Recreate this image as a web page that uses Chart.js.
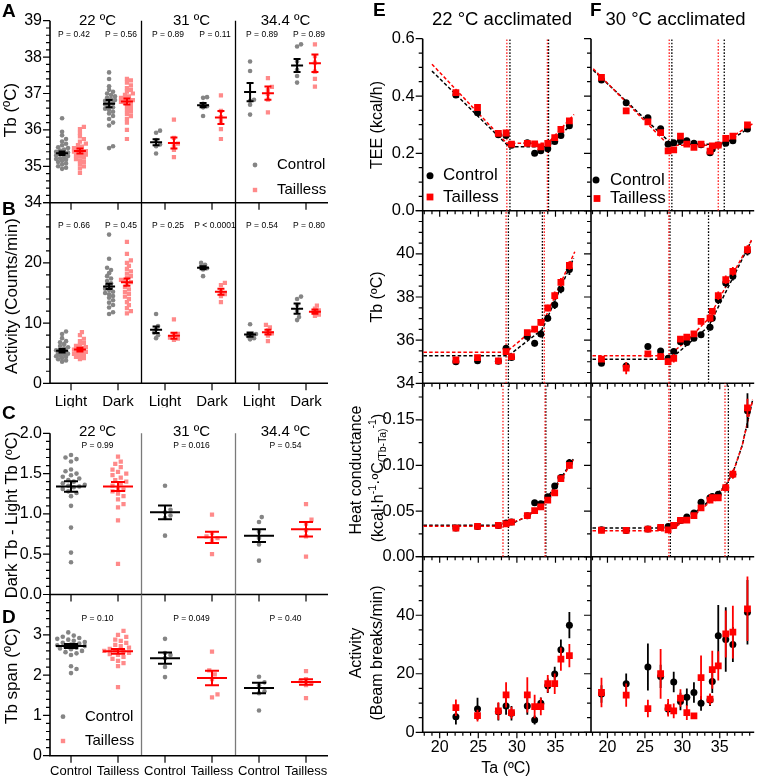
<!DOCTYPE html>
<html><head><meta charset="utf-8">
<script src="https://cdn.jsdelivr.net/npm/chart.js@4.4.0/dist/chart.umd.min.js"></script>
<style>
html,body{margin:0;padding:0;background:#fff;}
#wrap{position:relative;width:759px;height:781px;overflow:hidden;}
#wrap canvas{position:absolute;left:0;top:0;}
</style></head><body><div id="wrap"></div>
<script>
// ---------- data: left column (A-D) ----------
const groupTemps = ['22 ºC', '31 ºC', '34.4 ºC'];
const lightDark = ['Light', 'Dark', 'Light', 'Dark', 'Light', 'Dark'];
const genotypes = ['Control', 'Tailless', 'Control', 'Tailless', 'Control', 'Tailless'];

// A: Tb (ºC), one array per Light/Dark category
const tbControl = [
  [36.32, 35.95, 35.85, 35.75, 35.68, 35.62, 35.58, 35.52, 35.5, 35.46, 35.43, 35.4, 35.38, 35.35, 35.33, 35.3, 35.28, 35.25, 35.22, 35.2, 35.18, 35.15, 35.12, 35.08, 35.05, 35.0, 34.96, 34.93],
  [37.58, 37.4, 37.2, 37.1, 37.05, 37.0, 36.96, 36.92, 36.88, 36.85, 36.82, 36.8, 36.77, 36.74, 36.7, 36.66, 36.62, 36.58, 36.55, 36.5, 36.45, 36.38, 36.3, 36.2, 36.12, 35.55, 35.5],
  [35.98, 35.92, 35.72, 35.6, 35.55, 35.35],
  [36.9, 36.88, 36.72, 36.65, 36.62, 36.38],
  [37.88, 37.62, 36.83, 36.8, 36.69, 36.42],
  [38.35, 38.29, 37.88, 37.65, 37.48, 37.3]
];
const tbTailless = [
  [36.08, 36.02, 35.92, 35.82, 35.75, 35.68, 35.62, 35.58, 35.54, 35.5, 35.47, 35.44, 35.42, 35.4, 35.37, 35.34, 35.32, 35.3, 35.27, 35.24, 35.2, 35.16, 35.12, 35.06, 35.0, 34.94, 34.82],
  [37.4, 37.36, 37.3, 37.22, 37.15, 37.1, 37.05, 37.0, 36.96, 36.92, 36.88, 36.85, 36.82, 36.8, 36.77, 36.74, 36.7, 36.65, 36.6, 36.55, 36.5, 36.44, 36.38, 36.3, 36.2, 36.0, 35.75],
  [36.28, 35.78, 35.62, 35.55, 35.45, 35.25],
  [36.95, 36.52, 36.35, 36.25, 36.02, 35.75],
  [37.42, 37.18, 37.1, 36.98, 36.83, 36.48],
  [38.35, 38.03, 37.85, 37.6, 37.4, 37.19]
];
const tbControlMean = [35.36, 36.72, 35.66, 36.68, 37.04, 37.77];
const tbControlSem = [0.05, 0.1, 0.08, 0.06, 0.25, 0.18];
const tbTaillessMean = [35.42, 36.78, 35.64, 36.34, 37.01, 37.83];
const tbTaillessSem = [0.07, 0.08, 0.15, 0.18, 0.18, 0.24];
const tbP = ['P = 0.42', 'P = 0.56', 'P = 0.89', 'P = 0.11', 'P = 0.89', 'P = 0.89'];
const tbTicks = [34, 35, 36, 37, 38, 39];

// B: activity (counts/min)
const actControl = [
  [8.6, 8.2, 7.5, 7.0, 6.8, 6.5, 6.2, 6.0, 5.8, 5.6, 5.5, 5.3, 5.2, 5.0, 4.9, 4.8, 4.6, 4.5, 4.4, 4.2, 4.0, 3.8, 3.6],
  [24.7, 20.7, 19.2, 18.8, 18.3, 17.8, 17.4, 17.0, 16.6, 16.3, 16.0, 15.7, 15.5, 15.2, 15.0, 14.8, 14.5, 14.2, 13.8, 13.4, 13.0, 12.6, 11.8, 11.5],
  [11.5, 9.5, 9.0, 8.4, 8.0, 7.5],
  [20.0, 19.7, 19.4, 19.1, 18.9, 17.8],
  [9.8, 8.2, 8.0, 7.8, 7.5, 7.3],
  [14.4, 14.0, 13.0, 12.0, 11.0, 10.5]
];
const actTailless = [
  [8.5, 8.0, 7.4, 7.0, 6.7, 6.4, 6.2, 6.0, 5.9, 5.7, 5.6, 5.5, 5.4, 5.3, 5.2, 5.1, 5.0, 4.9, 4.8, 4.6, 4.4, 4.2, 4.0],
  [23.5, 21.5, 20.4, 20.0, 19.5, 19.0, 18.6, 18.2, 17.8, 17.5, 17.2, 17.0, 16.8, 16.5, 16.0, 15.6, 15.2, 14.8, 14.4, 14.0, 13.5, 13.0, 12.5, 12.0, 11.6],
  [10.6, 8.2, 8.0, 7.6, 7.4, 7.2],
  [16.7, 16.3, 15.2, 14.8, 14.5, 13.5],
  [9.7, 9.3, 8.8, 8.3, 7.9, 7.0],
  [12.9, 12.4, 12.1, 11.8, 11.4, 11.2]
];
const actControlMean = [5.4, 16.1, 8.9, 19.2, 8.1, 12.4];
const actControlSem = [0.3, 0.45, 0.55, 0.25, 0.35, 0.85];
const actTaillessMean = [5.6, 16.8, 7.9, 15.2, 8.5, 11.9];
const actTaillessSem = [0.3, 0.6, 0.5, 0.5, 0.4, 0.35];
const actP = ['P = 0.66', 'P = 0.45', 'P = 0.25', 'P < 0.0001', 'P = 0.54', 'P = 0.80'];
const actTicks = [0, 10, 20];

// C: dark Tb - light Tb, one array per temperature
const dtbControl = [
  [1.73, 1.70, 1.68, 1.65, 1.55, 1.53, 1.50, 1.48, 1.46, 1.44, 1.42, 1.40, 1.38, 1.36, 1.35, 1.34, 1.33, 1.31, 1.28, 1.26, 1.22, 1.10, 0.83, 0.52, 0.40],
  [1.35, 1.05, 1.02, 0.98, 0.95, 0.73],
  [0.96, 0.90, 0.78, 0.70, 0.62, 0.42]
];
const dtbTailless = [
  [1.71, 1.65, 1.62, 1.58, 1.55, 1.52, 1.50, 1.48, 1.45, 1.42, 1.40, 1.38, 1.35, 1.32, 1.30, 1.28, 1.25, 1.22, 1.18, 1.12, 1.08, 0.92, 0.38],
  [0.99, 0.76, 0.72, 0.70, 0.67, 0.50],
  [1.12, 0.93, 0.88, 0.80, 0.72, 0.47]
];
const dtbControlMean = [1.34, 1.02, 0.73];
const dtbControlSem = [0.065, 0.085, 0.08];
const dtbTaillessMean = [1.34, 0.71, 0.81];
const dtbTaillessSem = [0.055, 0.07, 0.09];
const dtbP = ['P = 0.99', 'P = 0.016', 'P = 0.54'];
const dtbTicks = [0, 0.5, 1.0, 1.5, 2.0];

// D: Tb span
const spanControl = [
  [3.06, 2.98, 2.95, 2.92, 2.9, 2.88, 2.85, 2.82, 2.8, 2.78, 2.76, 2.74, 2.72, 2.7, 2.68, 2.66, 2.64, 2.6, 2.57, 2.54, 2.5, 2.22, 2.15, 2.05],
  [2.9, 2.55, 2.5, 2.42, 2.2, 1.95],
  [1.96, 1.82, 1.75, 1.6, 1.55, 1.12]
];
const spanTailless = [
  [3.1, 3.0, 2.95, 2.88, 2.85, 2.8, 2.75, 2.72, 2.68, 2.65, 2.62, 2.6, 2.58, 2.55, 2.52, 2.5, 2.45, 2.4, 2.35, 2.3, 2.22, 1.7],
  [2.58, 2.12, 2.02, 1.9, 1.52, 1.45],
  [2.1, 1.9, 1.85, 1.8, 1.75, 1.43]
];
const spanControlMean = [2.72, 2.42, 1.68];
const spanControlSem = [0.05, 0.14, 0.13];
const spanTaillessMean = [2.59, 1.93, 1.83];
const spanTaillessSem = [0.06, 0.18, 0.07];
const spanP = ['P = 0.10', 'P = 0.049', 'P = 0.40'];
const spanTicks = [0, 1, 2, 3];

// ---------- data: right columns (E = 22 °C acclimated, F = 30 °C acclimated) ----------
const taE = [22.1, 24.9, 27.6, 28.6, 29.3, 31.35, 32.3, 33.1, 34.0, 34.9, 35.7, 36.8];
const teeEControl = [0.404, 0.342, 0.265, 0.262, 0.228, 0.237, 0.200, 0.209, 0.216, 0.241, 0.262, 0.296];
const teeETailless = [0.412, 0.360, 0.270, 0.271, 0.232, 0.235, 0.233, 0.223, 0.235, 0.255, 0.284, 0.313];
const teeEControlFit = [[19.0, 0.487], [29.0, 0.223], [34.0, 0.223], [37.3, 0.307]];
const teeETaillessFit = [[19.0, 0.511], [28.7, 0.235], [34.0, 0.235], [37.4, 0.336]];
const teeEControlBreaks = [29.1, 34.1];
const teeETaillessBreaks = [28.7, 33.95];

const tbEControl = [35.0, 35.05, 35.02, 35.63, 35.2, 36.17, 35.86, 36.29, 37.02, 37.64, 38.37, 39.27];
const tbEControlErr = [0.1, 0.12, 0.1, 0.1, 0.12, 0.15, 0.15, 0.15, 0.15, 0.2, 0.2, 0.25];
const tbETailless = [35.08, 35.19, 35.04, 35.47, 35.24, 36.35, 36.51, 36.82, 37.49, 38.06, 38.68, 39.46];
const tbETaillessErr = [0.1, 0.12, 0.1, 0.12, 0.1, 0.12, 0.15, 0.15, 0.15, 0.2, 0.2, 0.2];
const tbEControlFit = [[17.9, 35.28], [28.9, 35.28], [33.3, 36.5], [37.35, 39.8]];
const tbETaillessFit = [[17.9, 35.44], [28.6, 35.44], [33.5, 36.9], [37.5, 40.1]];
const tbEControlBreaks = [28.9, 33.3];
const tbETaillessBreaks = [28.6, 33.55];

const hcEControl = [0.0314, 0.0332, 0.0343, 0.037, 0.038, 0.045, 0.059, 0.058, 0.0657, 0.0775, 0.0867, 0.103];
const hcEControlErr = [0.001, 0.001, 0.001, 0.0015, 0.0015, 0.002, 0.002, 0.002, 0.002, 0.003, 0.003, 0.004];
const hcETailless = [0.0314, 0.0332, 0.0343, 0.036, 0.038, 0.045, 0.0506, 0.0546, 0.062, 0.070, 0.0856, 0.100];
const hcETaillessErr = [0.001, 0.001, 0.001, 0.0015, 0.0015, 0.002, 0.002, 0.002, 0.002, 0.003, 0.003, 0.004];
const hcEControlFit = [[17.9, 0.0345], [28.9, 0.0345], [31.4, 0.0445], [33.7, 0.062], [35.7, 0.086], [37.3, 0.107]];
const hcETaillessFit = [[17.9, 0.0335], [28.2, 0.0335], [31.4, 0.044], [33.7, 0.060], [35.7, 0.084], [37.3, 0.106]];
const hcEControlBreaks = [28.9, 33.75];
const hcETaillessBreaks = [28.2, 33.65];

const actEControl = [5.35, 8.0, 7.0, 9.0, 6.5, 9.0, 4.2, 9.9, 15.9, 19.9, 28.2, 36.6];
const actEControlErr = [2.7, 3.8, 3, 3, 2.5, 3, 1.5, 2, 2.5, 2.5, 3.5, 4.5];
const actETailless = [8.4, 5.7, 7.3, 12.8, 6.7, 12.8, 8.8, 8.8, 16.6, 16.6, 25.0, 26.2];
const actETaillessErr = [2.8, 2, 3, 4.3, 2, 6, 4, 3, 3, 3.5, 4, 4];

const taF = [19.2, 22.5, 25.4, 27.1, 28.1, 28.85, 29.75, 30.6, 31.55, 32.5, 33.7, 34.0, 34.8, 35.8, 36.75, 38.7];
const teeFControl = [0.456, 0.377, 0.324, 0.286, 0.232, 0.237, 0.245, 0.244, 0.235, 0.23, 0.202, 0.215, 0.229, 0.235, 0.244, 0.285];
const teeFTailless = [0.465, 0.348, 0.31, 0.272, 0.209, 0.212, 0.26, 0.232, 0.221, 0.232, 0.208, 0.226, 0.229, 0.252, 0.26, 0.299];
const teeFControlFit = [[18.1, 0.49], [28.6, 0.232], [35.6, 0.232], [39.0, 0.29]];
const teeFTaillessFit = [[18.1, 0.495], [28.2, 0.228], [34.8, 0.228], [39.5, 0.305]];
const teeFControlBreaks = [28.6, 35.6];
const teeFTaillessBreaks = [28.25, 34.8];

const tbFControl = [34.93, 34.8, 35.7, 35.5, 35.16, 35.47, 35.93, 35.89, 36.09, 36.25, 36.6, 37.02, 37.87, 38.65, 38.96, 40.12];
const tbFControlErr = [0.1, 0.15, 0.12, 0.1, 0.1, 0.12, 0.12, 0.12, 0.12, 0.12, 0.15, 0.15, 0.2, 0.2, 0.2, 0.2];
const tbFTailless = [35.12, 34.7, 35.36, 35.24, 35.0, 35.16, 36.05, 36.14, 36.29, 36.87, 37.02, 37.33, 38.06, 38.8, 39.19, 40.2];
const tbFTaillessErr = [0.1, 0.28, 0.12, 0.15, 0.15, 0.2, 0.12, 0.12, 0.12, 0.15, 0.15, 0.15, 0.2, 0.2, 0.2, 0.2];
const tbFControlFit = [[18.0, 35.12], [28.4, 35.12], [33.5, 36.63], [39.2, 40.59]];
const tbFTaillessFit = [[18.0, 35.28], [28.2, 35.28], [31.0, 36.1], [33.5, 37.0], [36.0, 38.6], [39.3, 40.67]];
const tbFControlBreaks = [28.35, 33.5];
const tbFTaillessBreaks = [28.2];

const hcFControl = [0.0295, 0.0288, 0.0303, 0.032, 0.033, 0.0343, 0.0398, 0.0436, 0.048, 0.0597, 0.0646, 0.066, 0.0683, 0.0756, 0.0904, 0.160];
const hcFControlErr = [0.001, 0.001, 0.001, 0.001, 0.001, 0.0015, 0.0015, 0.002, 0.002, 0.002, 0.002, 0.002, 0.003, 0.003, 0.004, 0.019];
const hcFTailless = [0.029, 0.0288, 0.0303, 0.032, 0.0295, 0.0343, 0.0398, 0.040, 0.045, 0.0535, 0.062, 0.0646, 0.0646, 0.0756, 0.0904, 0.163];
const hcFTaillessErr = [0.001, 0.001, 0.001, 0.001, 0.001, 0.0015, 0.0015, 0.002, 0.002, 0.002, 0.002, 0.002, 0.003, 0.003, 0.005, 0.01];
const hcFControlFit = [[18.0, 0.0314], [28.5, 0.0314], [31.5, 0.047], [34.0, 0.064], [35.8, 0.078], [36.8, 0.093], [38.0, 0.122], [39.4, 0.172]];
const hcFTaillessFit = [[18.0, 0.0284], [28.2, 0.0284], [31.5, 0.045], [34.0, 0.062], [35.7, 0.077], [36.8, 0.093], [38.0, 0.122], [39.4, 0.172]];
const hcFControlBreaks = [28.4, 36.15];
const hcFTaillessBreaks = [28.2, 35.7];

const actFControl = [13.1, 16.6, 22.3, 19.1, 8.0, 17.2, 10.5, 12.0, 13.6, 9.9, 11.0, 17.4, 33.0, 31.7, 30.0, 41.0];
const actFControlErr = [3, 3.5, 8, 4, 2, 3.5, 3, 3, 3.5, 2.5, 2, 4, 10.5, 11, 6, 11];
const actFTailless = [13.6, 12.7, 8.1, 20.0, 8.4, 7.3, 11.7, 6.7, 5.6, 18.7, 11.3, 21.4, 22.7, 33.6, 34.2, 42.2];
const actFTaillessErr = [5, 4, 3, 8.5, 3, 2.5, 3, 2.5, 1, 7.5, 2, 6.5, 5, 8, 9, 11];

const teeTicks = [0, 0.2, 0.4, 0.6];
const tbRightTicks = [34, 36, 38, 40];
const hcTicks = [0, 0.05, 0.10, 0.15];
const beamTicks = [0, 20, 40];
const taTicks = [20, 25, 30, 35];

// ---------- setup ----------
const W = 759, H = 781;
const YW = 46, XH = 24;   // room kept for tick labels around each plot box
const FONT = '"Liberation Sans", Arial, Helvetica, sans-serif';
Chart.defaults.font.family = FONT;
Chart.defaults.color = '#000';
Chart.defaults.animation = false;
Chart.defaults.events = [];
Chart.defaults.plugins.legend.display = false;
Chart.defaults.plugins.tooltip.enabled = false;

const wrap = document.getElementById('wrap');
const extras = new WeakMap();
function newCanvas() {
  const c = document.createElement('canvas');
  c.width = W; c.height = H;
  c.style.width = W + 'px'; c.style.height = H + 'px';
  wrap.appendChild(c);
  return c;
}
function pad(b) { return {left: b.l - YW, top: b.t, right: W - b.r, bottom: H - b.b - XH}; }

// axes, ticks and separators drawn from the chart's own scales
const framePlugin = {
  id: 'frame',
  beforeDatasetsDraw(chart) {
    const o = extras.get(chart.canvas);
    const {ctx, chartArea: a} = chart;
    const x = chart.scales.x, y = chart.scales.y;
    ctx.save();
    if (o.separators) {
      ctx.strokeStyle = o.sepColor; ctx.lineWidth = 1.3;
      ctx.beginPath();
      o.separators.forEach(v => { const px = x.getPixelForValue(v); ctx.moveTo(px, a.top); ctx.lineTo(px, a.bottom); });
      ctx.stroke();
    }
    ctx.strokeStyle = '#000'; ctx.lineWidth = 1.6;
    ctx.beginPath();
    ctx.moveTo(a.left, a.top); ctx.lineTo(a.left, a.bottom); ctx.lineTo(a.right, a.bottom);
    ctx.stroke();
    ctx.lineWidth = 1.2;
    ctx.beginPath();
    const ny = Math.floor((y.max - y.min) / o.yMinor + 1e-6);
    for (let i = 0; i <= ny; i++) {
      const v = y.min + i * o.yMinor;
      const major = Math.abs(v / o.yMajor - Math.round(v / o.yMajor)) < 1e-6;
      const py = y.getPixelForValue(v);
      ctx.moveTo(a.left, py); ctx.lineTo(a.left - (major ? 7 : 4), py);
    }
    if (o.xCats) {
      o.xCats.forEach((_, i) => { const px = x.getPixelForValue(i); ctx.moveTo(px, a.bottom); ctx.lineTo(px, a.bottom + 7); });
    } else {
      for (let v = Math.ceil(x.min); v <= x.max; v++) {
        const px = x.getPixelForValue(v);
        ctx.moveTo(px, a.bottom); ctx.lineTo(px, a.bottom + (v % 5 === 0 ? 6 : 3.5));
      }
    }
    ctx.stroke();
    ctx.restore();
  }
};

// mean ± SEM bars, group titles and P values for the strip panels
const stripPlugin = {
  id: 'strip',
  afterDatasetsDraw(chart) {
    const o = extras.get(chart.canvas);
    const {ctx} = chart;
    const x = chart.scales.x, y = chart.scales.y;
    ctx.save();
    o.series.forEach(s => {
      ctx.strokeStyle = s.meanColor; ctx.lineWidth = 2;
      ctx.beginPath();
      s.mean.forEach((m, i) => {
        const cx = x.getPixelForValue(s.pos[i] + s.offset);
        const my = y.getPixelForValue(m);
        const t = y.getPixelForValue(m + s.sem[i]), b = y.getPixelForValue(m - s.sem[i]);
        ctx.moveTo(cx - o.meanHalf, my); ctx.lineTo(cx + o.meanHalf, my);
        ctx.moveTo(cx, t); ctx.lineTo(cx, b);
        ctx.moveTo(cx - o.capHalf, t); ctx.lineTo(cx + o.capHalf, t);
        ctx.moveTo(cx - o.capHalf, b); ctx.lineTo(cx + o.capHalf, b);
      });
      ctx.stroke();
    });
    ctx.fillStyle = '#000';
    ctx.textAlign = 'center'; ctx.textBaseline = 'middle';
    if (o.titles) {
      ctx.font = '15px ' + FONT;
      o.titles.forEach((t, g) => ctx.fillText(t, x.getPixelForValue(2 * g + 0.5) + 3, o.titleY));
    }
    ctx.font = '8.5px ' + FONT;
    o.pvals.forEach((t, i) => {
      const v = o.pvals.length === 6 ? i : 2 * i + 0.5;
      ctx.fillText(t, x.getPixelForValue(v) + 3, o.pY);
    });
    ctx.restore();
  }
};

function swarmX(values, center, pxX, pxY, diam, maxHalf) {
  const order = values.map((v, i) => i).sort((a, b) => values[a] - values[b]);
  const placed = [], out = [];
  const step = diam * 0.55;
  order.forEach(i => {
    const py = values[i] * pxY;
    let best = 0, bestGap = -1;
    for (let k = 0; k < 40; k++) {
      const off = (k % 2 ? 1 : -1) * Math.ceil(k / 2) * step;
      if (Math.abs(off) > maxHalf) break;
      let gap = Infinity;
      placed.forEach(p => { const d = Math.hypot(p[0] - off, p[1] - py); if (d < gap) gap = d; });
      if (gap >= diam) { best = off; break; }
      if (gap > bestGap) { bestGap = gap; best = off; }
    }
    placed.push([best, py]);
    out[i] = center + best / pxX;
  });
  return out;
}

function stripChart(o) {
  const canvas = newCanvas();
  extras.set(canvas, o);
  const datasets = o.series.map((s, si) => {
    const pts = [];
    s.values.forEach((vals, gi) => {
      const xs = swarmX(vals, s.pos[gi] + s.offset, 47, o.pxY, s.diam, o.maxHalf);
      vals.forEach((v, j) => pts.push({x: xs[j], y: v}));
    });
    return {data: pts, pointStyle: s.style, pointRadius: s.radius, backgroundColor: s.color, borderWidth: 0, order: o.series.length - si};
  });
  new Chart(canvas, {
    type: 'scatter',
    data: {datasets},
    options: {
      responsive: false, devicePixelRatio: 1,
      layout: {padding: pad(o.box)},
      scales: {
        x: {
          type: 'linear', min: -0.447, max: 5.468,
          afterFit: s => { s.height = XH; },
          afterBuildTicks: s => { s.ticks = o.xCats.map((_, i) => ({value: i})); },
          grid: {display: false, drawTicks: false}, border: {display: false},
          ticks: {display: o.showX, autoSkip: false, maxRotation: 0, minRotation: 0, padding: o.xPad,
                  font: {size: o.xFont}, callback: v => o.xCats[v]}
        },
        y: {
          min: o.yMin, max: o.yMax,
          afterFit: s => { s.width = YW; },
          afterBuildTicks: s => { s.ticks = o.yTicks.map(v => ({value: v})); },
          grid: {display: false, drawTicks: false}, border: {display: false},
          ticks: {padding: 8, font: {size: 16}, callback: v => v.toFixed(o.yDec)}
        }
      }
    },
    plugins: [framePlugin, stripPlugin]
  });
}

const GRAY = '#858585', PINK = '#ff8a8a';
function lrSeries(ctrl, tl, cm, cs, tm, ts, paired) {
  const posC = paired ? [0, 1, 2, 3, 4, 5] : [0, 2, 4];
  const posT = paired ? [0, 1, 2, 3, 4, 5] : [1, 3, 5];
  const off = paired ? 0.19 : 0;
  return [
    {values: ctrl, pos: posC, offset: -off, mean: cm, sem: cs, style: 'circle', radius: 2.3, diam: paired ? 3.6 : 5, color: GRAY, meanColor: '#000'},
    {values: tl, pos: posT, offset: off, mean: tm, sem: ts, style: 'rect', radius: 3.0, diam: paired ? 3.6 : 5, color: PINK, meanColor: '#f00'}
  ];
}

stripChart({box: {l: 50, t: 20.7, r: 328, b: 202.7}, yMin: 34, yMax: 39, yTicks: tbTicks, yDec: 0, yMajor: 1, yMinor: 0.2, pxY: 36.4,
  xCats: lightDark, showX: false, xPad: 10, xFont: 15, separators: [1.5, 3.5], sepColor: '#000',
  series: lrSeries(tbControl, tbTailless, tbControlMean, tbControlSem, tbTaillessMean, tbTaillessSem, true),
  maxHalf: 7, meanHalf: 6, capHalf: 3.5, titles: groupTemps, titleY: 20.5, pvals: tbP, pY: 35});
stripChart({box: {l: 50, t: 202.7, r: 328, b: 383.3}, yMin: 0, yMax: 30, yTicks: actTicks, yDec: 0, yMajor: 10, yMinor: 2, pxY: 6.02,
  xCats: lightDark, showX: true, xPad: 10, xFont: 15, separators: [1.5, 3.5], sepColor: '#000',
  series: lrSeries(actControl, actTailless, actControlMean, actControlSem, actTaillessMean, actTaillessSem, true),
  maxHalf: 7, meanHalf: 6, capHalf: 3.5, pvals: actP, pY: 225.7});
stripChart({box: {l: 50, t: 433.3, r: 328, b: 594.5}, yMin: 0, yMax: 2, yTicks: dtbTicks, yDec: 1, yMajor: 0.5, yMinor: 0.1, pxY: 80.6,
  xCats: genotypes, showX: false, xPad: 8, xFont: 13, separators: [1.5, 3.5], sepColor: '#7a7a7a',
  series: lrSeries(dtbControl, dtbTailless, dtbControlMean, dtbControlSem, dtbTaillessMean, dtbTaillessSem, false),
  maxHalf: 15, meanHalf: 15, capHalf: 7, titles: groupTemps, titleY: 431.7, pvals: dtbP, pY: 446});
stripChart({box: {l: 50, t: 594.5, r: 328, b: 755.7}, yMin: 0, yMax: 4, yTicks: spanTicks, yDec: 0, yMajor: 1, yMinor: 0.2, pxY: 40.3,
  xCats: genotypes, showX: true, xPad: 8, xFont: 13, separators: [1.5, 3.5], sepColor: '#7a7a7a',
  series: lrSeries(spanControl, spanTailless, spanControlMean, spanControlSem, spanTaillessMean, spanTaillessSem, false),
  maxHalf: 15, meanHalf: 15, capHalf: 7, pvals: spanP, pY: 619});

// error bars for the Ta panels, drawn just before each dataset
const errPlugin = {
  id: 'errs',
  beforeDatasetDraw(chart, args) {
    const ds = chart.data.datasets[args.index];
    if (!ds.errs) return;
    const {ctx} = chart;
    const x = chart.scales.x, y = chart.scales.y;
    ctx.save();
    ctx.strokeStyle = ds.backgroundColor; ctx.lineWidth = 1.8;
    ctx.beginPath();
    ds.data.forEach((p, i) => {
      const e = ds.errs[i];
      if (!e) return;
      const px = x.getPixelForValue(p.x);
      ctx.moveTo(px, y.getPixelForValue(p.y + e)); ctx.lineTo(px, y.getPixelForValue(p.y - e));
    });
    ctx.stroke();
    ctx.restore();
  }
};

function taChart(o) {
  const canvas = newCanvas();
  extras.set(canvas, o);
  const pts = (vals) => o.ta.map((t, i) => ({x: t, y: vals[i]}));
  const datasets = [
    {data: pts(o.tl), errs: o.tlErr, pointStyle: 'rect', pointRadius: 4.8, backgroundColor: '#ff0000', borderWidth: 0, order: 0},
    {data: pts(o.ctrl), errs: o.ctrlErr, pointStyle: 'circle', pointRadius: 3.5, backgroundColor: '#000000', borderWidth: 0, order: 1}
  ];
  const line = (d, color, dash, w, order) => ({data: d, showLine: true, pointRadius: 0, borderColor: color, borderDash: dash, borderWidth: w, order, fill: false});
  if (o.tlFit) datasets.push(line(o.tlFit.map(p => ({x: p[0], y: p[1]})), '#ff0000', [3.5, 2.2], 1.5, 2));
  if (o.ctrlFit) datasets.push(line(o.ctrlFit.map(p => ({x: p[0], y: p[1]})), '#000000', [3.5, 2.2], 1.5, 3));
  (o.tlBreaks || []).forEach(v => datasets.push(line([{x: v, y: o.yMin}, {x: v, y: o.yMax}], '#ff2020', [1.6, 1.6], 1.3, 4)));
  (o.ctrlBreaks || []).forEach(v => datasets.push(line([{x: v, y: o.yMin}, {x: v, y: o.yMax}], '#000000', [1.6, 1.6], 1.3, 5)));
  new Chart(canvas, {
    type: 'scatter',
    data: {datasets},
    options: {
      responsive: false, devicePixelRatio: 1,
      layout: {padding: pad(o.box)},
      elements: {line: {tension: 0}},
      scales: {
        x: {
          type: 'linear', min: 17.8, max: 39.6,
          afterFit: s => { s.height = XH; },
          afterBuildTicks: s => { s.ticks = taTicks.map(v => ({value: v})); },
          grid: {display: false, drawTicks: false}, border: {display: false},
          ticks: {display: o.showX, autoSkip: false, maxRotation: 0, padding: 6, font: {size: 16}}
        },
        y: {
          min: o.yMin, max: o.yMax,
          afterFit: s => { s.width = YW; },
          afterBuildTicks: s => { s.ticks = o.yTicks.map(v => ({value: v})); },
          grid: {display: false, drawTicks: false}, border: {display: false},
          ticks: {display: o.showY, padding: 8, font: {size: 16.5}, callback: v => v.toFixed(o.yDec)}
        }
      }
    },
    plugins: [framePlugin, errPlugin]
  });
}

const colE = {l: 422.7, r: 591}, colF = {l: 591, r: 758.5};
const rows = {tee: [38.7, 210.7], tb: [210.7, 383.3], hc: [383.3, 556.7], act: [556.7, 732.3]};
const bx = (c, r) => ({l: c.l, r: c.r, t: rows[r][0], b: rows[r][1]});

taChart({box: bx(colE, 'tee'), yMin: 0, yMax: 0.6, yTicks: teeTicks, yDec: 1, yMajor: 0.2, yMinor: 0.05, showY: true, showX: false,
  ta: taE, ctrl: teeEControl, tl: teeETailless, ctrlFit: teeEControlFit, tlFit: teeETaillessFit, ctrlBreaks: teeEControlBreaks, tlBreaks: teeETaillessBreaks});
taChart({box: bx(colE, 'tb'), yMin: 34, yMax: 42, yTicks: tbRightTicks, yDec: 0, yMajor: 2, yMinor: 0.5, showY: true, showX: false,
  ta: taE, ctrl: tbEControl, ctrlErr: tbEControlErr, tl: tbETailless, tlErr: tbETaillessErr, ctrlFit: tbEControlFit, tlFit: tbETaillessFit, ctrlBreaks: tbEControlBreaks, tlBreaks: tbETaillessBreaks});
taChart({box: bx(colE, 'hc'), yMin: 0, yMax: 0.19, yTicks: hcTicks, yDec: 2, yMajor: 0.05, yMinor: 0.025, showY: true, showX: false,
  ta: taE, ctrl: hcEControl, ctrlErr: hcEControlErr, tl: hcETailless, tlErr: hcETaillessErr, ctrlFit: hcEControlFit, tlFit: hcETaillessFit, ctrlBreaks: hcEControlBreaks, tlBreaks: hcETaillessBreaks});
taChart({box: bx(colE, 'act'), yMin: 0, yMax: 60, yTicks: beamTicks, yDec: 0, yMajor: 20, yMinor: 5, showY: true, showX: true,
  ta: taE, ctrl: actEControl, ctrlErr: actEControlErr, tl: actETailless, tlErr: actETaillessErr});

taChart({box: bx(colF, 'tee'), yMin: 0, yMax: 0.6, yTicks: teeTicks, yDec: 1, yMajor: 0.2, yMinor: 0.05, showY: false, showX: false,
  ta: taF, ctrl: teeFControl, tl: teeFTailless, ctrlFit: teeFControlFit, tlFit: teeFTaillessFit, ctrlBreaks: teeFControlBreaks, tlBreaks: teeFTaillessBreaks});
taChart({box: bx(colF, 'tb'), yMin: 34, yMax: 42, yTicks: tbRightTicks, yDec: 0, yMajor: 2, yMinor: 0.5, showY: false, showX: false,
  ta: taF, ctrl: tbFControl, ctrlErr: tbFControlErr, tl: tbFTailless, tlErr: tbFTaillessErr, ctrlFit: tbFControlFit, tlFit: tbFTaillessFit, ctrlBreaks: tbFControlBreaks, tlBreaks: tbFTaillessBreaks});
taChart({box: bx(colF, 'hc'), yMin: 0, yMax: 0.19, yTicks: hcTicks, yDec: 2, yMajor: 0.05, yMinor: 0.025, showY: false, showX: false,
  ta: taF, ctrl: hcFControl, ctrlErr: hcFControlErr, tl: hcFTailless, tlErr: hcFTaillessErr, ctrlFit: hcFControlFit, tlFit: hcFTaillessFit, ctrlBreaks: hcFControlBreaks, tlBreaks: hcFTaillessBreaks});
taChart({box: bx(colF, 'act'), yMin: 0, yMax: 60, yTicks: beamTicks, yDec: 0, yMajor: 20, yMinor: 5, showY: false, showX: true,
  ta: taF, ctrl: actFControl, ctrlErr: actFControlErr, tl: actFTailless, tlErr: actFTaillessErr});

// ---------- labels, legends, panel letters ----------
(function overlay() {
  const ctx = newCanvas().getContext('2d');
  ctx.fillStyle = '#000';
  const txt = (t, x, y, size, align = 'left', bold = false) => {
    ctx.font = (bold ? 'bold ' : '') + size + 'px ' + FONT;
    ctx.textAlign = align; ctx.textBaseline = 'middle';
    ctx.fillText(t, x, y);
  };
  const rot = (t, x, y, size) => {
    ctx.save(); ctx.translate(x, y); ctx.rotate(-Math.PI / 2);
    txt(t, 0, 0, size, 'center');
    ctx.restore();
  };
  // panel letters
  txt('A', 2, 12, 19, 'left', true);
  txt('B', 2, 210, 19, 'left', true);
  txt('C', 2, 414, 19, 'left', true);
  txt('D', 2, 618, 19, 'left', true);
  txt('E', 373, 11, 19, 'left', true);
  txt('F', 590, 11, 19, 'left', true);
  // left axis titles
  rot('Tb (ºC)', 11, 110, 17);
  rot('Activity (Counts/min)', 12, 296, 17);
  rot('Dark Tb - Light Tb (ºC)', 12, 515, 16.5);
  rot('Tb span (ºC)', 12, 676, 17);
  // right titles
  txt('22 °C acclimated', 502, 20, 18.5, 'center');
  txt('30 °C acclimated', 675.5, 20, 18.5, 'center');
  rot('TEE (kcal/h)', 378, 125, 16);
  rot('Tb (ºC)', 378, 297, 16);
  rot('Heat conductance', 357, 470, 16);
  rot('Activity', 357, 653, 16);
  rot('(Beam breaks/min)', 378, 653, 16);
  txt('Ta (ºC)', 506, 769, 16, 'center');
  // rich subtitle for heat conductance
  const parts = [['(kcal·h', 16, 0], ['-1', 10.5, -6], ['·ºC', 16, 0], ['(Tb-Ta)', 10.5, 4], ['-1', 10.5, -6], [')', 16, 0]];
  ctx.save(); ctx.translate(379, 478); ctx.rotate(-Math.PI / 2);
  let total = 0;
  parts.forEach(p => { ctx.font = p[1] + 'px ' + FONT; total += ctx.measureText(p[0]).width; });
  let cx = -total / 2;
  ctx.textAlign = 'left'; ctx.textBaseline = 'middle';
  parts.forEach(p => { ctx.font = p[1] + 'px ' + FONT; ctx.fillText(p[0], cx, p[2]); cx += ctx.measureText(p[0]).width; });
  ctx.restore();
  // legends
  const dot = (x, y, r, c) => { ctx.fillStyle = c; ctx.beginPath(); ctx.arc(x, y, r, 0, Math.PI * 2); ctx.fill(); };
  const sq = (x, y, s, c) => { ctx.fillStyle = c; ctx.fillRect(x - s / 2, y - s / 2, s, s); };
  dot(255, 165, 2.4, GRAY); sq(255, 190, 4.4, PINK);
  ctx.fillStyle = '#000'; txt('Control', 277, 165, 15); txt('Tailless', 277, 190, 15);
  dot(63, 716.7, 2.4, GRAY); sq(63, 741, 4.4, PINK);
  ctx.fillStyle = '#000'; txt('Control', 85, 716.7, 15); txt('Tailless', 85, 741, 15);
  dot(430, 175.7, 3.5, '#000'); sq(430, 197, 6.8, '#f00');
  ctx.fillStyle = '#000'; txt('Control', 443, 175.7, 17); txt('Tailless', 443, 197, 17);
  dot(596, 180, 3.5, '#000'); sq(597, 198.5, 6.8, '#f00');
  ctx.fillStyle = '#000'; txt('Control', 610, 180, 17); txt('Tailless', 610, 198.5, 17);
})();
</script>
</body></html>
